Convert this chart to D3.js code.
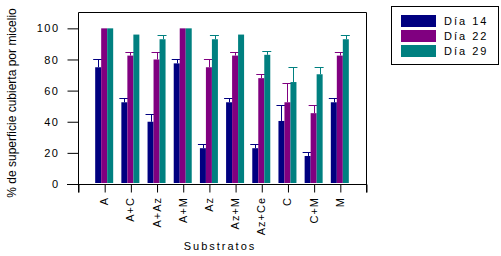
<!DOCTYPE html>
<html>
<head>
<meta charset="utf-8">
<script src="https://cdn.jsdelivr.net/npm/d3@7"></script>
<style>
  body { margin: 0; background: #fff; }
  text { font-family: "Liberation Sans", Arial, sans-serif; fill: #000; }
</style>
</head>
<body>
<div id="chart"></div>
<script>
// Data
var categories = ["A", "A+C", "A+Az", "A+M", "Az", "Az+M", "Az+Ce", "C", "C+M", "M"];
var seriesNames = ["Día 14", "Día 22", "Día 29"];
var colors = ["#000080", "#800080", "#008080"];

var dia14 = [75, 52.5, 40, 77.5, 23, 52.5, 23, 40.5, 18, 52.5];
var dia22 = [100, 82.5, 80, 100, 75, 82.5, 68, 52.5, 45.5, 82.5];
var dia29 = [100, 96, 93, 100, 93, 96, 83, 65.5, 70.5, 93];

var err14 = [5, 2.5, 5, 2.5, 2.5, 2.5, 2.5, 10, 2.5, 2.5];
var err22 = [0, 2.5, 5, 0, 5, 2.5, 2.5, 12.5, 5, 2.5];
var err29 = [0, 0, 2.5, 0, 2.5, 0, 2.5, 9.5, 4.5, 2.5];

var yTicks = [0, 20, 40, 60, 80, 100];

var values = [dia14, dia22, dia29];
var errors = [err14, err22, err29];

var width = 501, height = 256;
var svg = d3.select("#chart").append("svg")
    .attr("width", width)
    .attr("height", height);

// Plot area
var plotLeft = 78, plotRight = 366, plotTop = 12, plotBottom = 184;

var x = d3.scaleLinear().domain([0, categories.length + 1]).range([plotLeft, plotRight]);
var y = d3.scaleLinear().domain([0, 110.5]).range([plotBottom, plotTop]);
var barW = 6;

function barX(i, s) { return x(i + 1) - 1.5 * barW + s * barW; }

// Bars
var groups = svg.append("g").attr("id", "bars");
values.forEach(function(vals, s) {
    groups.selectAll(".bar" + s)
        .data(vals)
        .enter()
        .append("rect")
            .attr("class", "bar" + s)
            .attr("x", function(d, i) { return barX(i, s); })
            .attr("y", function(d) { return y(d); })
            .attr("width", barW)
            .attr("height", function(d) { return y(0) - y(d) - 1; })
            .attr("fill", colors[s]);

    // upward error bars
    var eg = groups.selectAll(".err" + s)
        .data(vals.map(function(v, i) { return { v: v, e: errors[s][i], i: i }; })
            .filter(function(d) { return d.e > 0; }))
        .enter()
        .append("g")
            .attr("class", "err" + s)
            .attr("stroke", colors[s])
            .attr("stroke-width", 1);
    eg.append("line")
        .attr("x1", function(d) { return Math.round(barX(d.i, s) + barW / 2) + 0.5; })
        .attr("x2", function(d) { return Math.round(barX(d.i, s) + barW / 2) + 0.5; })
        .attr("y1", function(d) { return y(d.v); })
        .attr("y2", function(d) { return Math.round(y(d.v + d.e)) + 0.5; });
    eg.append("line")
        .attr("x1", function(d) { return barX(d.i, s) - 2; })
        .attr("x2", function(d) { return barX(d.i, s) + barW + 1; })
        .attr("y1", function(d) { return Math.round(y(d.v + d.e)) + 0.5; })
        .attr("y2", function(d) { return Math.round(y(d.v + d.e)) + 0.5; });
});

// Y axis (left), ticks and labels
var yg = svg.append("g")
    .attr("transform", "translate(" + (plotLeft + 0.5) + ",0)")
    .call(d3.axisLeft(y).tickValues(yTicks).tickSize(11).tickSizeOuter(0).tickPadding(8));
yg.select(".domain").remove();
yg.selectAll("text")
    .style("font-size", "11px")
    .style("letter-spacing", "1.5px")
    .attr("font-family", null);

// X axis: ticks at every category plus both ends; its domain path also draws the frame
var xTickVals = d3.range(0, categories.length + 2);
var xg = svg.append("g")
    .attr("transform", "translate(0," + (plotBottom + 0.5) + ")")
    .call(d3.axisBottom(x).tickValues(xTickVals).tickSize(8).tickSizeOuter(0).tickFormat(""));
var frameTop = y(110.5) - y(0);
xg.select(".domain").attr("d",
    "M" + (plotLeft - 11) + ",0H" + (plotRight + 1) +
    "M" + (x(0) + 0.5) + ",8V" + frameTop + "H" + (x(11) + 0.5) + "V8");
xg.selectAll(".tick line").attr("transform", "translate(0.5,0)");

svg.append("g").selectAll(".xlab")
    .data(categories)
    .enter()
    .append("text")
        .attr("class", "xlab")
        .attr("transform", function(d, i) { return "translate(" + (x(i + 1) + 4) + ",197) rotate(-90)"; })
        .attr("text-anchor", "end")
        .style("font-size", "11px")
        .style("letter-spacing", "1px")
        .text(function(d) { return d; });

// Axis titles
svg.append("text")
    .attr("x", 220)
    .attr("y", 250)
    .attr("text-anchor", "middle")
    .style("font-size", "11px")
    .style("letter-spacing", "2px")
    .text("Substratos");

svg.append("text")
    .attr("transform", "translate(16,103) rotate(-90)")
    .attr("text-anchor", "middle")
    .style("font-size", "12px")
    .text("% de superficie cubierta por micelio");

// Legend
var legend = svg.append("g").attr("id", "legend");
legend.append("rect")
    .attr("x", 391.5).attr("y", 6.5)
    .attr("width", 107).attr("height", 58)
    .attr("fill", "#fff").attr("stroke", "#000");
var li = legend.selectAll(".item")
    .data(seriesNames)
    .enter()
    .append("g")
        .attr("class", "item")
        .attr("transform", function(d, i) { return "translate(401," + (15 + i * 15) + ")"; });
li.append("rect")
    .attr("width", 35).attr("height", 12)
    .attr("fill", function(d, i) { return colors[i]; });
li.append("text")
    .attr("x", 43).attr("y", 10)
    .style("font-size", "11px")
    .style("letter-spacing", "2px")
    .text(function(d) { return d; });
</script>
</body>
</html>
